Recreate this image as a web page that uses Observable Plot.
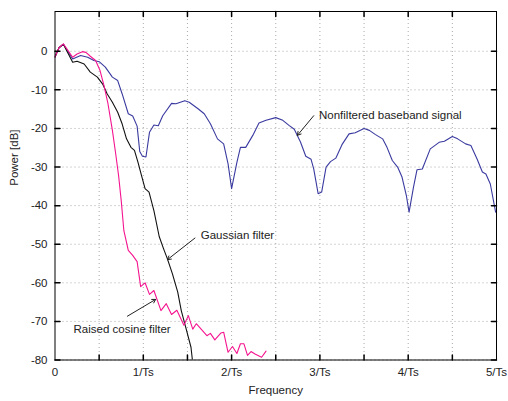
<!DOCTYPE html>
<html><head><meta charset="utf-8">
<script src="https://cdn.jsdelivr.net/npm/d3@7"></script>
<script src="https://cdn.jsdelivr.net/npm/@observablehq/plot@0.6"></script>
<style>html,body{margin:0;padding:0;background:#fff}svg{display:block}</style>
</head><body><div id="chart"></div>
<script>
// ---- Data (frequency in units of 1/Ts, power in dB) ----
const nonfilteredX = [0,0.045,0.095,0.2,0.29,0.37,0.44,0.5,0.57,0.65,0.71,0.76,0.83,0.88,0.93,0.96,0.99,1.03,1.07,1.12,1.17,1.22,1.32,1.37,1.47,1.52,1.62,1.69,1.76,1.84,1.91,1.96,2.0,2.06,2.1,2.16,2.24,2.31,2.39,2.5,2.58,2.65,2.71,2.78,2.84,2.9,2.93,2.98,3.02,3.07,3.12,3.18,3.25,3.33,3.4,3.5,3.56,3.63,3.71,3.76,3.82,3.88,3.93,3.98,4.01,4.06,4.1,4.16,4.25,4.35,4.41,4.5,4.56,4.65,4.71,4.78,4.84,4.88,4.93,4.99];
const nonfilteredY = [-1.5,0.9,1.8,-2,-1.1,-1.55,-2.4,-2.7,-4.1,-6.7,-7.6,-11,-16.2,-16.8,-19.4,-26,-27.2,-27.4,-21,-19.1,-19.3,-16.7,-13.5,-13.6,-12.8,-13.2,-14.9,-16.2,-18.8,-22.7,-24,-29.2,-35.6,-28.8,-24.9,-24.9,-21.8,-18.6,-17.9,-17.2,-17.9,-19.2,-20.2,-23.5,-27.2,-28,-30.5,-36.9,-36.5,-30,-28.6,-27.7,-24.2,-21.4,-21.1,-20,-20.5,-21.6,-22.7,-24.9,-28.3,-30,-32.6,-37.5,-41.7,-35.2,-30.7,-30.5,-25.3,-23.6,-23.3,-22.1,-22.7,-24,-24.4,-27.9,-31.3,-31.8,-34.4,-41.7];

const gaussianX = [0,0.045,0.095,0.2,0.25,0.33,0.4,0.48,0.54,0.59,0.65,0.71,0.76,0.81,0.86,0.9,0.94,0.98,1.02,1.065,1.12,1.18,1.23,1.27,1.33,1.39,1.43,1.48,1.54,1.556];
const gaussianY = [-1.5,0.9,1.8,-2.85,-2.6,-3.3,-5.4,-6.7,-8.5,-11,-13.2,-15.8,-18.8,-22.7,-24.9,-25.7,-28.8,-32.2,-35.6,-36.5,-41.3,-48,-51.2,-53.6,-57.7,-62.4,-67.2,-71.5,-76.7,-80];

const raisedCosX = [0,0.045,0.095,0.2,0.25,0.31,0.35,0.4,0.46,0.51,0.555,0.6,0.65,0.69,0.72,0.75,0.78,0.83,0.88,0.93,0.97,1.02,1.07,1.12,1.2,1.26,1.32,1.38,1.46,1.51,1.56,1.6,1.72,1.76,1.81,1.88,1.91,1.96,2.01,2.06,2.1,2.14,2.18,2.22,2.27,2.34,2.39];
const raisedCosY = [-1.5,0.9,1.9,-1.55,-0.7,-0.1,-0.3,-1.3,-2.4,-5,-8.9,-13.6,-20.5,-27,-32.2,-38.7,-46.5,-51.6,-52.9,-54.5,-61,-60,-63,-62,-67.2,-65.4,-68.2,-67.1,-71,-68.5,-72,-70.6,-73.7,-73.1,-74.8,-73,-72.8,-78,-76.5,-78.3,-75.8,-75.8,-78.8,-77.8,-78.5,-79.3,-77.7];

const xTickValues = [0,1,2,3,4,5];
const xTickLabels = ["0","1/Ts","2/Ts","3/Ts","4/Ts","5/Ts"];
const xMinorTicks = [0.5,1,1.5,2,2.5,3,3.5,4,4.5];
const yTickValues = [0,-10,-20,-30,-40,-50,-60,-70,-80];

const annotationTexts = ["Nonfiltered baseband signal","Gaussian filter","Raised cosine filter"];
const annotationX = [2.99,1.65,0.21];
const annotationY = [-16.7,-47.7,-72.1];
const arrowX1 = [2.93,1.585,0.82];
const arrowY1 = [-16.7,-48.4,-68.65];
const arrowX2 = [2.745,1.273,1.14];
const arrowY2 = [-21.8,-54.0,-64.3];

// ---- Build tables ----
const toPts = (xs, ys) => xs.map((x, i) => ({x, y: ys[i]}));
const nonfiltered = toPts(nonfilteredX, nonfilteredY);
const gaussian = toPts(gaussianX, gaussianY);
const raisedCos = toPts(raisedCosX, raisedCosY);
const annotations = annotationTexts.map((t, i) => ({t, x: annotationX[i], y: annotationY[i], x1: arrowX1[i], y1: arrowY1[i], x2: arrowX2[i], y2: arrowY2[i]}));

const tickShape = {draw(ctx, l) { ctx.moveTo(0, 0); ctx.lineTo(0, -l); }};
const font = "'Liberation Sans', Arial, Helvetica, sans-serif";

const chart = Plot.plot({
  width: 508,
  height: 401,
  marginLeft: 54.5,
  marginRight: 12,
  marginTop: 11,
  marginBottom: 41.5,
  style: {fontFamily: font, fontSize: "11.5px", color: "#222", background: "#fff"},
  x: {domain: [0, 5]},
  y: {domain: [-80, 10.3]},
  marks: [
    Plot.ruleX(xMinorTicks, {x: d => d, stroke: "#aaa", strokeDasharray: "1,3", strokeWidth: 1}),
    Plot.ruleY(yTickValues, {y: d => d, stroke: "#aaa", strokeDasharray: "1,3", strokeWidth: 1}),
    Plot.line(nonfiltered, {x: "x", y: "y", stroke: "#3a3aa0", strokeWidth: 1.1, clip: true}),
    Plot.line(gaussian, {x: "x", y: "y", stroke: "#111", strokeWidth: 1.1, clip: true}),
    Plot.line(raisedCos, {x: "x", y: "y", stroke: "#f5148f", strokeWidth: 1.1, clip: true}),
    Plot.vector(xMinorTicks, {x: d => d, frameAnchor: "bottom", length: 5, rotate: 0, anchor: "start", shape: tickShape, stroke: "#000"}),
    Plot.vector(xMinorTicks, {x: d => d, frameAnchor: "top", length: 5, rotate: 180, anchor: "start", shape: tickShape, stroke: "#000"}),
    Plot.vector(yTickValues, {y: d => d, frameAnchor: "left", length: 5, rotate: 90, anchor: "start", shape: tickShape, stroke: "#000"}),
    Plot.vector(yTickValues, {y: d => d, frameAnchor: "right", length: 5, rotate: -90, anchor: "start", shape: tickShape, stroke: "#000"}),
    Plot.frame({stroke: "#000", strokeWidth: 1}),
    Plot.axisX({ticks: xTickValues, tickFormat: d => xTickLabels[xTickValues.indexOf(d)], tickSize: 0, tickPadding: 8, label: null}),
    Plot.axisY({ticks: yTickValues, tickFormat: d => String(d), tickSize: 0, tickPadding: 7.5, label: null}),
    Plot.text(["Frequency"], {frameAnchor: "bottom", dy: 33.5, text: d => d}),
    Plot.text(["Power [dB]"], {frameAnchor: "left", dx: -41, rotate: -90, text: d => d}),
    Plot.arrow(annotations, {x1: "x1", y1: "y1", x2: "x2", y2: "y2", stroke: "#222", strokeWidth: 1, headLength: 6, bend: 0}),
    Plot.text(annotations, {x: "x", y: "y", text: "t", textAnchor: "start", fill: "#222"})
  ]
});
document.getElementById("chart").appendChild(chart);
</script>
</body></html>
